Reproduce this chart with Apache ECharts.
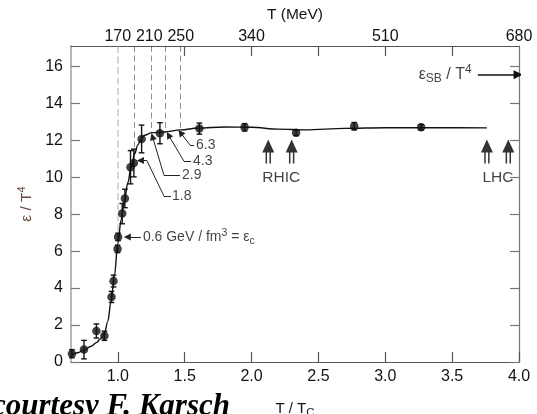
<!DOCTYPE html>
<html><head><meta charset="utf-8">
<script src="https://cdn.jsdelivr.net/npm/echarts@6/dist/echarts.min.js"></script>
<style>html,body{margin:0;padding:0;background:#fff}#c{width:537px;height:414px}</style>
</head><body><div id="c"></div>
<script>
// ---- data (T/Tc on x, epsilon/T^4 on y) ----
const Tc = 170; // MeV
const pointX   = [0.657, 0.747, 0.84, 0.90, 0.953, 0.968, 0.998, 1.002, 1.033, 1.053, 1.095, 1.12, 1.178, 1.315, 1.61, 1.948, 2.333, 2.768, 3.268];
const pointY   = [0.45, 0.67, 1.68, 1.42, 3.52, 4.38, 6.12, 6.77, 8.03, 8.85, 10.54, 10.77, 12.07, 12.38, 12.63, 12.70, 12.40, 12.76, 12.70];
const pointErr = [0.22, 0.5, 0.38, 0.25, 0.3, 0.32, 0.2, 0.2, 0.55, 0.5, 0.9, 0.75, 0.75, 0.57, 0.3, 0.2, 0.15, 0.2, 0.15];
const curveX = [0.65, 0.70, 0.75, 0.80, 0.84, 0.87, 0.90, 0.925, 0.95, 0.975, 1.0, 1.025, 1.05, 1.075, 1.1, 1.125, 1.15, 1.175, 1.2, 1.25, 1.35, 1.47, 1.6, 1.8, 2.0, 2.2, 2.4, 2.7, 3.0, 3.4, 3.76];
const curveY = [0.38, 0.5, 0.66, 0.85, 1.05, 1.25, 1.55, 2.2, 3.3, 4.7, 6.4, 7.7, 8.75, 9.7, 10.55, 11.25, 11.75, 12.08, 12.27, 12.4, 12.45, 12.56, 12.66, 12.72, 12.7, 12.6, 12.56, 12.64, 12.68, 12.68, 12.67];
const xTicks = [1.0, 1.5, 2.0, 2.5, 3.0, 3.5, 4.0];
const yTicks = [0, 2, 4, 6, 8, 10, 12, 14, 16];
const topTicks = [1.5, 2.0, 2.5, 3.0, 3.5];
const topLabelsMeV = [170, 210, 250, 340, 510, 680];
// energy-density markers (GeV/fm^3) at T/Tc
const densityX = [1.0, 1.122, 1.247, 1.358, 1.47];
const densityYEnd = [6.77, 11.2, 12.4, 12.45, 12.56];
const densityLabels = ['1.8', '2.9', '4.3', '6.3'];
const densityLabelAt = [[1.405, 8.98], [1.48, 10.11], [1.5625, 10.86], [1.585, 11.74]];
const densityLeaders = [
  [[1.3975, 8.98], [1.345, 8.98], [1.2175, 10.90], [1.169, 10.90]],
  [[1.465, 10.11], [1.345, 10.11], [1.259, 12.20]],
  [[1.5475, 10.86], [1.495, 10.86], [1.379, 12.28]],
  [[1.570, 11.74], [1.540, 11.74], [1.469, 12.41]]
];
const epsCLabelAt = [1.1875, 6.76];
const epsCArrow = [[1.1725, 6.76], [1.071, 6.76]];
const sbLabelAt = [3.25, 15.55];
const sbArrow = [[3.693, 15.55], [3.993, 15.55]];
const rhicX = [2.125, 2.30];
const lhcX = [3.76, 3.92];
const colliderArrowY = 11.39;
const rhicLabelAt = [2.2225, 9.98];
const lhcLabelAt = [3.843, 9.98];

const XMIN = 0.65, XMAX = 4.0, YMIN = 0, YMAX = 17.1;
const txt = '#111318';
const font = '"Liberation Sans", Arial, sans-serif';

// build segments for leaders
const plainSegs = [], arrowSegs = [];
densityLeaders.concat([epsCArrow]).forEach(pts => {
  for (let i = 0; i < pts.length - 1; i++) {
    const seg = { coords: [pts[i], pts[i + 1]] };
    if (i === pts.length - 2) arrowSegs.push(seg); else plainSegs.push(seg);
  }
});
const sbSeg = [{ coords: sbArrow }];

const dashed = densityX.map((x, i) => ({
  coords: [[x, YMAX], [x, densityYEnd[i]]],
  lineStyle: i === 0 ? { color: '#9a9a9a', width: 1.6, type: [7, 3.5] } : { color: '#222', width: 1, type: [6, 3.5] }
}));

const arrowPath = 'path://M6,0 L12,13 L0,13 Z M3.3,13 L4.8,13 L4.8,24 L3.3,24 Z M7.2,13 L8.7,13 L8.7,24 L7.2,24 Z';

const rich = {
  a: { fontSize: 16, fontFamily: font, color: txt, lineHeight: 21 },
  sub: { fontSize: 12, fontFamily: font, color: txt, lineHeight: 12, verticalAlign: 'bottom' },
  sup: { fontSize: 12, fontFamily: font, color: txt, lineHeight: 12, verticalAlign: 'top' }
};
const richY = {
  a: { fontSize: 15.5, fontFamily: font, color: '#6a4a3c', lineHeight: 20 },
  sup: { fontSize: 11, fontFamily: font, color: '#6a4a3c', lineHeight: 11, verticalAlign: 'top' }
};
const richSmall = {
  a: { fontSize: 14, fontFamily: font, color: txt, lineHeight: 19 },
  sub: { fontSize: 10.5, fontFamily: font, color: txt, lineHeight: 10, verticalAlign: 'bottom' },
  sup: { fontSize: 10.5, fontFamily: font, color: txt, lineHeight: 10, verticalAlign: 'top' }
};

const chart = echarts.init(document.getElementById('c'), null, { renderer: 'canvas' });
chart.setOption({
  animation: false,
  backgroundColor: '#fff',
  grid: { left: 71, right: 18, top: 46, bottom: 52, containLabel: false, outerBoundsMode: 'none' },
  xAxis: [
    {
      type: 'value', position: 'bottom', min: XMIN, max: XMAX,
      axisLine: { onZero: false, lineStyle: { color: '#555', width: 1.2 } },
      axisTick: { inside: true, length: 10, customValues: xTicks, lineStyle: { color: '#555', width: 1.2 } },
      axisLabel: { customValues: xTicks, formatter: v => v.toFixed(1), margin: 7, fontSize: 16, fontFamily: font, color: txt },
      splitLine: { show: false },
      name: '{a|T / T}{sub|C}', nameLocation: 'middle', nameGap: 37,
      nameTextStyle: { rich: { a: { fontSize: 15, fontFamily: font, color: txt, lineHeight: 20 }, sub: { fontSize: 11.5, fontFamily: font, color: txt, lineHeight: 11, verticalAlign: 'bottom' } } }
    },
    {
      type: 'value', position: 'top', min: XMIN, max: XMAX,
      axisLine: { onZero: false, lineStyle: { color: '#555', width: 1.2 } },
      axisTick: { inside: true, length: 10, customValues: topTicks, lineStyle: { color: '#555', width: 1.2 } },
      axisLabel: { customValues: topLabelsMeV.map(t => t / Tc), formatter: v => String(Math.round(v * Tc)), margin: 1, fontSize: 16, fontFamily: font, color: txt },
      splitLine: { show: false },
      name: 'T (MeV)', nameLocation: 'middle', nameGap: 23,
      nameTextStyle: { fontSize: 15.5, fontFamily: font, color: txt }
    }
  ],
  yAxis: [
    {
      type: 'value', position: 'left', min: YMIN, max: YMAX,
      axisLine: { show: true, onZero: false, lineStyle: { color: '#a0a0a0', width: 1.5 } },
      axisTick: { show: true, inside: true, length: 9, customValues: yTicks, lineStyle: { color: '#777', width: 1.2 } },
      axisLabel: { customValues: yTicks, margin: 8, fontSize: 16, fontFamily: font, color: txt },
      splitLine: { show: false },
      name: '{a|ε / T}{sup|4}', nameLocation: 'middle', nameGap: 29, nameRotate: 90,
      nameTextStyle: { rich: richY }
    },
    {
      type: 'value', position: 'right', min: YMIN, max: YMAX,
      axisLine: { show: true, onZero: false, lineStyle: { color: '#777', width: 1.2 } },
      axisTick: { show: true, inside: true, length: 9, customValues: yTicks, lineStyle: { color: '#777', width: 1.2 } },
      axisLabel: { show: false },
      splitLine: { show: false }
    }
  ],
  graphic: [
    { type: 'text', left: -8, top: 391, z: 100,
      style: { text: 'courtesy F. Karsch', font: 'italic bold 31px "Liberation Serif", "DejaVu Serif", serif', fill: '#000' } }
  ],
  series: [
    { type: 'lines', coordinateSystem: 'cartesian2d', xAxisIndex: 0, yAxisIndex: 0, symbol: 'none', silent: true, data: dashed, z: 1 },
    { type: 'line', xAxisIndex: 0, yAxisIndex: 0, data: curveX.map((x, i) => [x, curveY[i]]),
      smooth: 0.35, smoothMonotone: 'x', showSymbol: false, symbol: 'none', lineStyle: { color: '#111', width: 1.4 }, z: 2 },
    { type: 'custom', xAxisIndex: 0, yAxisIndex: 0, data: pointX.map((x, i) => [x, pointY[i], pointErr[i]]),
      encode: { x: 0, y: 1 }, z: 3,
      renderItem: (params, api) => {
        const x = api.value(0), y = api.value(1), e = api.value(2);
        const t = api.coord([x, y + e]), b = api.coord([x, y - e]);
        const hw = 2.8, st = { stroke: '#111', lineWidth: 1.4 };
        return { type: 'group', children: [
          { type: 'line', shape: { x1: t[0], y1: t[1], x2: b[0], y2: b[1] }, style: st },
          { type: 'line', shape: { x1: t[0] - hw, y1: t[1], x2: t[0] + hw, y2: t[1] }, style: st },
          { type: 'line', shape: { x1: b[0] - hw, y1: b[1], x2: b[0] + hw, y2: b[1] }, style: st }
        ] };
      } },
    { type: 'scatter', xAxisIndex: 0, yAxisIndex: 0, data: pointX.map((x, i) => [x, pointY[i]]),
      symbol: 'circle', symbolSize: 8.5, itemStyle: { color: '#111' }, z: 4 },
    { type: 'lines', coordinateSystem: 'cartesian2d', xAxisIndex: 0, yAxisIndex: 0, symbol: 'none', silent: true,
      lineStyle: { color: '#222', width: 1, opacity: 1 }, data: plainSegs, z: 5 },
    { type: 'lines', coordinateSystem: 'cartesian2d', xAxisIndex: 0, yAxisIndex: 0, symbol: ['none', 'triangle'], symbolSize: [0, 7], silent: true,
      lineStyle: { color: '#222', width: 1, opacity: 1 }, itemStyle: { color: '#222' }, data: arrowSegs, z: 5 },
    { type: 'lines', coordinateSystem: 'cartesian2d', xAxisIndex: 0, yAxisIndex: 0, symbol: ['none', 'triangle'], symbolSize: [0, 9], silent: true,
      lineStyle: { color: '#111', width: 1.6, opacity: 1 }, data: sbSeg, z: 5 },
    { type: 'scatter', xAxisIndex: 0, yAxisIndex: 0, symbolSize: 0, silent: true, z: 6,
      data: densityLabels.map((s, i) => ({ value: densityLabelAt[i], name: s })),
      label: { show: true, position: 'right', distance: 0, formatter: p => p.name, fontSize: 14, fontFamily: font, color: txt } },
    { type: 'scatter', xAxisIndex: 0, yAxisIndex: 0, symbolSize: 0, silent: true, z: 6,
      data: [{ value: epsCLabelAt }],
      label: { show: true, position: 'right', distance: 0, formatter: '{a|0.6 GeV / fm}{sup|3}{a| = ε}{sub|c}', rich: richSmall } },
    { type: 'scatter', xAxisIndex: 0, yAxisIndex: 0, symbolSize: 0, silent: true, z: 6,
      data: [{ value: sbLabelAt }],
      label: { show: true, position: 'right', distance: 0, formatter: '{a|ε}{sub|SB}{a| / T}{sup|4}', rich: rich } },
    { type: 'scatter', xAxisIndex: 0, yAxisIndex: 0, symbolSize: 0, silent: true, z: 6,
      data: [{ value: rhicLabelAt, name: 'RHIC' }, { value: lhcLabelAt, name: 'LHC' }],
      label: { show: true, position: 'inside', formatter: p => p.name, fontSize: 15.5, fontFamily: font, color: txt } },
    { type: 'scatter', xAxisIndex: 0, yAxisIndex: 0, silent: true, z: 6,
      data: rhicX.concat(lhcX).map(x => [x, colliderArrowY]),
      symbol: arrowPath, symbolSize: [12, 24], symbolKeepAspect: false, itemStyle: { color: '#000' } }
  ]
});
</script></body></html>
